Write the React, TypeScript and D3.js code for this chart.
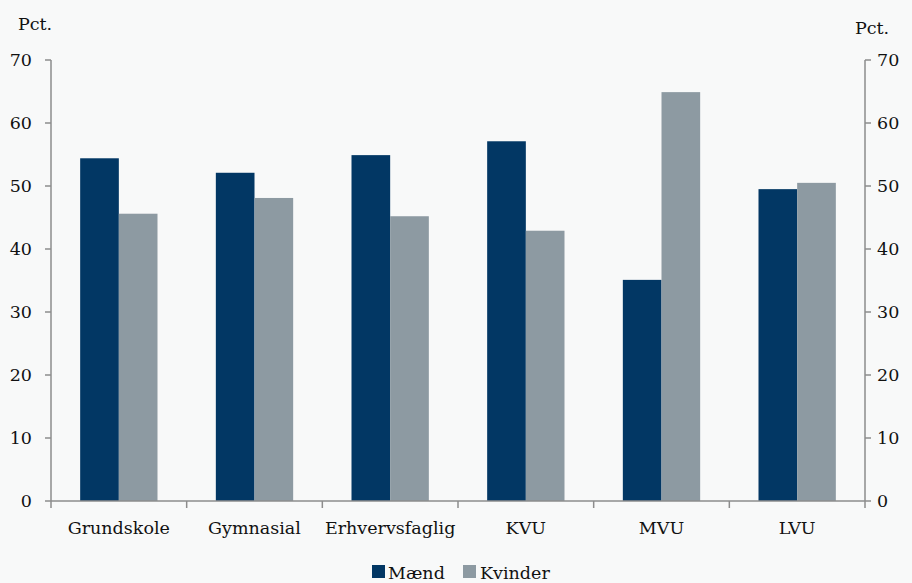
import React from "react";
import * as d3 from "d3";

const categories = ["Grundskole", "Gymnasial", "Erhvervsfaglig", "KVU", "MVU", "LVU"];
const seriesNames = ["Mænd", "Kvinder"];
const maend = [54.4, 52.1, 54.9, 57.1, 35.1, 49.5];
const kvinder = [45.6, 48.1, 45.2, 42.9, 64.9, 50.5];
const yTicks = [0, 10, 20, 30, 40, 50, 60, 70];
const colors = ["#023764", "#8d9aa2"];

const W = 912;
const H = 583;
const left = 51;
const right = 865;
const top = 60;
const bottom = 501;
const font = "DejaVu Serif";
const fs = 17.5;

export default function App() {
  const x = d3.scaleBand<string>().domain(categories).range([left, right]).padding(0);
  const y = d3.scaleLinear().domain([0, 70]).range([bottom, top]);
  const data = [maend, kvinder];
  const bw = x.bandwidth() * 0.285;
  const axisColor = "#8c8c8c";
  const boundaries = d3.range(categories.length + 1).map((i) => left + i * x.bandwidth());

  return (
    <svg
      width={W}
      height={H}
      style={{ position: "absolute", left: 0, top: 0, background: "#f8f9f9" }}
      fontFamily={font}
    >
      <rect x={0} y={0} width={W} height={H} fill="#f8f9f9" />
      {categories.map((c, i) => {
        const cx = (x(c) as number) + x.bandwidth() / 2;
        return seriesNames.map((s, j) => {
          const v = data[j][i];
          return (
            <rect
              key={c + s}
              x={cx - bw + j * bw}
              y={y(v)}
              width={bw}
              height={y(0) - y(v)}
              fill={colors[j]}
            />
          );
        });
      })}
      <line x1={left} x2={left} y1={top} y2={bottom} stroke={axisColor} strokeWidth={1.5} />
      <line x1={right} x2={right} y1={top} y2={bottom} stroke={axisColor} strokeWidth={1.5} />
      <line x1={left} x2={right} y1={bottom} y2={bottom} stroke={axisColor} strokeWidth={1.5} />
      {yTicks.map((t) => (
        <g key={t}>
          <line x1={left - 6} x2={left} y1={y(t)} y2={y(t)} stroke={axisColor} strokeWidth={1.5} />
          <line x1={right} x2={right + 6} y1={y(t)} y2={y(t)} stroke={axisColor} strokeWidth={1.5} />
          <text x={32} y={y(t)} dy="0.35em" textAnchor="end" fontSize={fs} fill="#111">
            {t}
          </text>
          <text x={877} y={y(t)} dy="0.35em" textAnchor="start" fontSize={fs} fill="#111">
            {t}
          </text>
        </g>
      ))}
      {boundaries.map((b, i) => (
        <line key={i} x1={b} x2={b} y1={bottom} y2={bottom + 7} stroke={axisColor} strokeWidth={1.5} />
      ))}
      {categories.map((c) => (
        <text
          key={c}
          x={(x(c) as number) + x.bandwidth() / 2}
          y={534}
          textAnchor="middle"
          fontSize={fs}
          fill="#111"
        >
          {c}
        </text>
      ))}
      <text x={18} y={30} fontSize={fs} fill="#111">Pct.</text>
      <text x={855} y={34} fontSize={fs} fill="#111">Pct.</text>
      <rect x={372} y={565} width={13} height={13} fill={colors[0]} />
      <text x={388} y={579} fontSize={fs} fill="#111">{seriesNames[0]}</text>
      <rect x={463} y={565} width={13} height={13} fill={colors[1]} />
      <text x={480} y={579} fontSize={fs} fill="#111">{seriesNames[1]}</text>
    </svg>
  );
}
